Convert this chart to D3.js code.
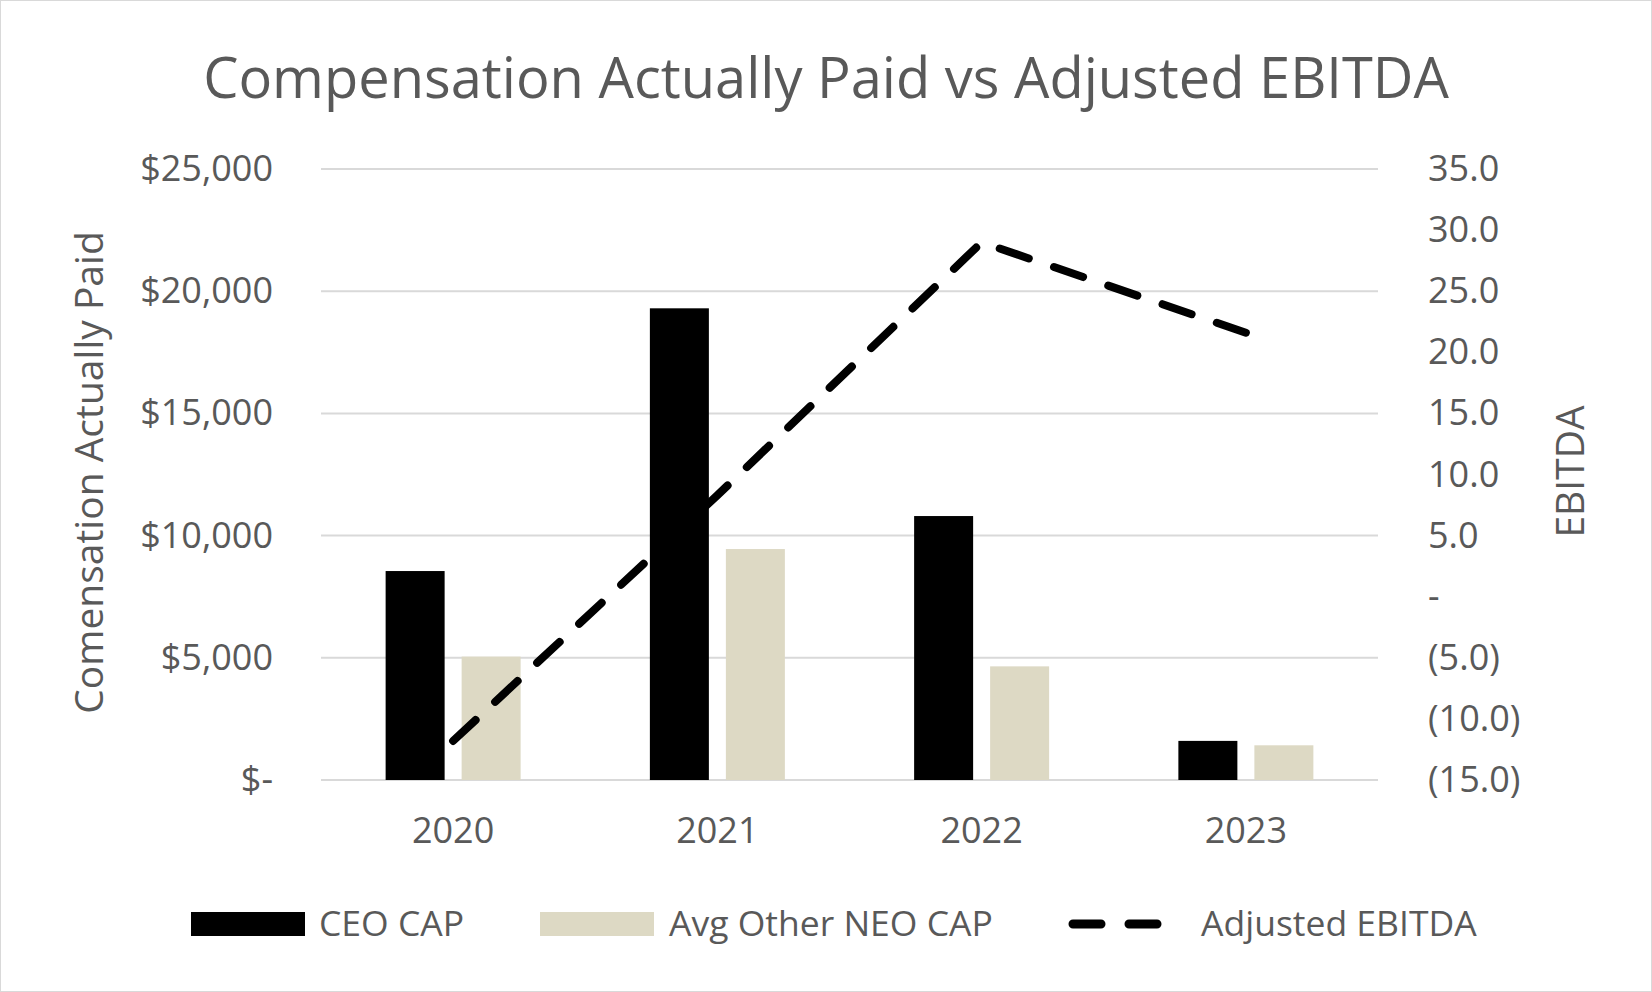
<!DOCTYPE html>
<html lang="en">
<head>
<meta charset="UTF-8">
<title>Compensation Actually Paid vs Adjusted EBITDA</title>
<script src="https://cdn.jsdelivr.net/npm/d3@7"></script>
<style>
  body { margin: 0; background: #fff; }
  svg text { font-family: "Open Sans", sans-serif; fill: #595959; }
  .axis path, .axis line { display: none; }
</style>
</head>
<body>
<script>
const years = ["2020", "2021", "2022", "2023"];
const ceoCap = [8550, 19300, 10800, 1600];
const neoCap = [5050, 9450, 4650, 1420];
const ebitda = [-11.8, 8.3, 29.0, 21.6];
const leftTicks = [0, 5000, 10000, 15000, 20000, 25000];
const rightTicks = [-15, -10, -5, 0, 5, 10, 15, 20, 25, 30, 35];

const W = 1652, H = 992;
const m = { left: 321, right: W - 1378, top: 169, bottom: H - 780 };

const svg = d3.select("body").append("svg")
  .attr("width", W).attr("height", H);

svg.append("rect")
  .attr("x", 0.5).attr("y", 0.5)
  .attr("width", W - 1).attr("height", H - 1)
  .attr("fill", "#fff").attr("stroke", "#d9d9d9");

let x = d3.scaleBand().domain(years).range([m.left, W - m.right]).padding(0);
let yL = d3.scaleLinear().domain([0, 25000]).range([H - m.bottom, m.top]);
let yR = d3.scaleLinear().domain([-15, 35]).range([H - m.bottom, m.top]);

// gridlines
svg.append("g").selectAll("line")
  .data(leftTicks).enter().append("line")
  .attr("x1", m.left).attr("x2", W - m.right)
  .attr("y1", d => yL(d)).attr("y2", d => yL(d))
  .attr("stroke", "#d9d9d9").attr("stroke-width", 2);

// bars
const barW = 59, gap = 17;
svg.append("g").selectAll("rect")
  .data(years).enter().append("rect")
  .attr("x", d => x(d) + x.bandwidth() / 2 - gap / 2 - barW)
  .attr("y", (d, i) => yL(ceoCap[i]))
  .attr("width", barW)
  .attr("height", (d, i) => yL(0) - yL(ceoCap[i]))
  .attr("fill", "#000");

svg.append("g").selectAll("rect")
  .data(years).enter().append("rect")
  .attr("x", d => x(d) + x.bandwidth() / 2 + gap / 2)
  .attr("y", (d, i) => yL(neoCap[i]))
  .attr("width", barW)
  .attr("height", (d, i) => yL(0) - yL(neoCap[i]))
  .attr("fill", "#ddd9c4");

// EBITDA line
const line = d3.line()
  .x((d, i) => x(years[i]) + x.bandwidth() / 2)
  .y(d => yR(d));
let ePath = svg.append("path")
  .datum(ebitda)
  .attr("d", line)
  .attr("fill", "none")
  .attr("stroke", "#000")
  .attr("stroke-width", 8)
  .attr("stroke-linecap", "round");

// stretch the dash pattern a little so the line ends on a dash
const len = ePath.node().getTotalLength();
const dash = 30, gp = 26;
const n = Math.round((len - dash) / (dash + gp));
const k = len / (n * (dash + gp) + dash);
ePath.attr("stroke-dasharray", (dash * k) + " " + (gp * k));

// axes
const fmtL = d => d === 0 ? "$-" : "$" + d3.format(",")(d);
const fmtR = d => d === 0 ? "-" : (d < 0 ? "(" + d3.format(".1f")(-d) + ")" : d3.format(".1f")(d));

svg.append("g").attr("class", "axis")
  .attr("transform", "translate(" + (m.left - 45) + ",0)")
  .call(d3.axisLeft(yL).tickValues(leftTicks).tickFormat(fmtL).tickSize(0))
  .selectAll("text").style("font-size", "36px");

svg.append("g").attr("class", "axis")
  .attr("transform", "translate(" + (W - m.right + 47) + ",0)")
  .call(d3.axisRight(yR).tickValues(rightTicks).tickFormat(fmtR).tickSize(0))
  .selectAll("text").style("font-size", "36px");

svg.append("g").attr("class", "axis")
  .attr("transform", "translate(0," + (H - m.bottom + 34) + ")")
  .call(d3.axisBottom(x).tickSize(0))
  .selectAll("text").style("font-size", "36px");

// titles
svg.append("text")
  .attr("x", W / 2).attr("y", 98)
  .attr("text-anchor", "middle")
  .style("font-size", "56px")
  .text("Compensation Actually Paid vs Adjusted EBITDA");

svg.append("text")
  .attr("transform", "translate(103," + ((m.top + H - m.bottom) / 2 - 2) + ") rotate(-90)")
  .attr("text-anchor", "middle")
  .style("font-size", "39px")
  .text("Comensation Actually Paid");

svg.append("text")
  .attr("transform", "translate(1584," + ((m.top + H - m.bottom) / 2 - 3) + ") rotate(-90)")
  .attr("text-anchor", "middle")
  .style("font-size", "39px")
  .text("EBITDA");

// legend
const ly = 924;
const lg = svg.append("g");
lg.append("rect").attr("x", 191).attr("y", ly - 12).attr("width", 114).attr("height", 24).attr("fill", "#000");
lg.append("text").attr("x", 319).attr("y", ly + 12).style("font-size", "35.5px").text("CEO CAP");
lg.append("rect").attr("x", 540).attr("y", ly - 12).attr("width", 114).attr("height", 24).attr("fill", "#ddd9c4");
lg.append("text").attr("x", 669).attr("y", ly + 12).style("font-size", "35.5px").text("Avg Other NEO CAP");
lg.append("line").attr("x1", 1073).attr("x2", 1171).attr("y1", ly).attr("y2", ly)
  .attr("stroke", "#000").attr("stroke-width", 9)
  .attr("stroke-dasharray", "28 28").attr("stroke-linecap", "round");
lg.append("text").attr("x", 1201).attr("y", ly + 12).style("font-size", "35.5px").text("Adjusted EBITDA");
</script>
</body>
</html>
